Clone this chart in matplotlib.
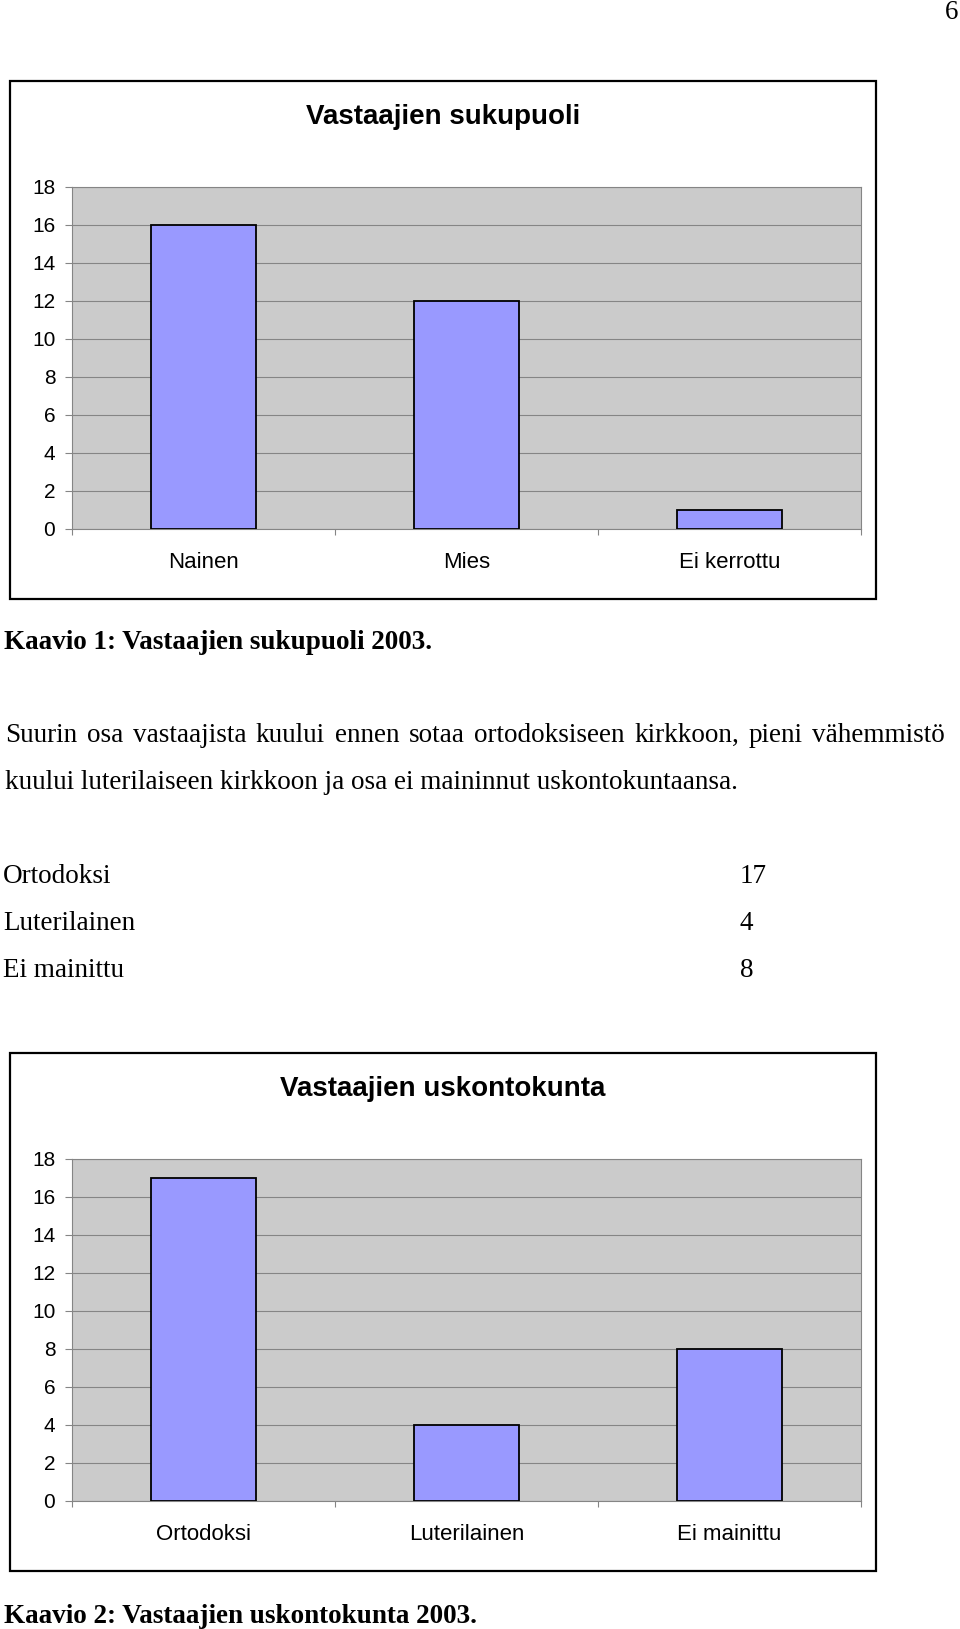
import matplotlib
matplotlib.use('Agg')
import matplotlib.pyplot as plt
from matplotlib.patches import Rectangle

W, H = 960, 1629
DPI = 100

# ---- data ----
gender_cats = ['Nainen', 'Mies', 'Ei kerrottu']
gender_vals = [16, 12, 1]
religion_cats = ['Ortodoksi', 'Luterilainen', 'Ei mainittu']
religion_vals = [17, 4, 8]
yticks = [0, 2, 4, 6, 8, 10, 12, 14, 16, 18]

chart1_title = 'Vastaajien sukupuoli'
chart2_title = 'Vastaajien uskontokunta'
caption1 = 'Kaavio 1: Vastaajien sukupuoli 2003.'
caption2 = 'Kaavio 2: Vastaajien uskontokunta 2003.'
para_line1 = 'Suurin osa vastaajista kuului ennen sotaa ortodoksiseen kirkkoon, pieni vähemmistö'
para_line2 = 'kuului luterilaiseen kirkkoon ja osa ei maininnut uskontokuntaansa.'
table_labels = religion_cats
table_values = [str(v) for v in religion_vals]
page_number = '6'

SANS = 'Liberation Sans'
SERIF = 'Liberation Serif'
BAR = '#9999FF'
PLOT_BG = '#CBCBCB'
GRID = '#858585'

fig = plt.figure(figsize=(W / DPI, H / DPI), dpi=DPI)
fig.patch.set_facecolor('white')


def fx(px):
    return px / W


def fy(py):
    return 1 - py / H


def draw_chart(frame, plot, title, title_y, cats, vals):
    x0, y0, x1, y1 = frame
    fig.add_artist(Rectangle((fx(x0), fy(y1)), (x1 - x0) / W, (y1 - y0) / H,
                             transform=fig.transFigure, facecolor='none',
                             edgecolor='black', linewidth=1.6, zorder=5))
    fig.text(fx((x0 + x1) / 2), fy(title_y), title, ha='center', va='center',
             fontsize=20, fontweight='bold', family=SANS)
    px0, py0, px1, py1 = plot
    ax = fig.add_axes([fx(px0), fy(py1), (px1 - px0) / W, (py1 - py0) / H])
    ax.set_facecolor(PLOT_BG)
    ax.bar(range(len(cats)), vals, width=0.4, color=BAR, edgecolor='black',
           linewidth=1.3, zorder=3)
    ax.set_xlim(-0.5, len(cats) - 0.5)
    ax.set_ylim(0, 18)
    ax.set_yticks(yticks)
    ax.set_yticklabels([str(t) for t in yticks], fontsize=15, family=SANS)
    ax.yaxis.grid(True, color=GRID, linewidth=0.8)
    ax.set_axisbelow(True)
    ax.set_xticks(range(len(cats)))
    ax.set_xticklabels(cats, fontsize=16, family=SANS)
    for lab in ax.get_xticklabels():
        lab.set_va('center')
    ax.set_xticks([i - 0.5 for i in range(len(cats) + 1)], minor=True)
    ax.tick_params(axis='x', which='major', length=0, pad=23.8)
    ax.tick_params(axis='x', which='minor', length=4.5, color=GRID, width=0.8)
    ax.tick_params(axis='y', length=5, color=GRID, width=0.8, pad=7)
    for s in ax.spines.values():
        s.set_color(GRID)
        s.set_linewidth(0.8)
    return ax


draw_chart((10, 81, 876, 599), (72, 187, 861, 529), chart1_title, 116.7,
           gender_cats, gender_vals)
draw_chart((10, 1053, 876, 1571), (72, 1159, 861, 1501), chart2_title, 1089,
           religion_cats, religion_vals)

BODY = 19.5
fig.text(fx(4), fy(649), caption1, ha='left', va='baseline', fontsize=BODY,
         fontweight='bold', family=SERIF)
fig.text(fx(4), fy(1623), caption2, ha='left', va='baseline', fontsize=BODY,
         fontweight='bold', family=SERIF)
fig.text(fx(945), fy(19), page_number, ha='left', va='baseline', fontsize=BODY,
         family=SERIF)

renderer = fig.canvas.get_renderer()


def justified_line(text, x_left, x_right, y_base, **kw):
    words = text.split(' ')
    groups = []
    for w in words:
        core = w.rstrip(',.')
        punct = w[len(core):]
        ca = fig.text(0, fy(y_base), core, ha='left', va='baseline', **kw)
        pa = fig.text(0, fy(y_base), punct, ha='left', va='baseline', **kw) if punct else None
        cw = ca.get_window_extent(renderer).width
        pw = pa.get_window_extent(renderer).width if pa else 0
        groups.append((ca, cw, pa, pw))
    total = sum(g[1] + g[3] for g in groups)
    gap = ((x_right - x_left) - total) / (len(groups) - 1)
    x = x_left
    for ca, cw, pa, pw in groups:
        ca.set_x(fx(x))
        if pa is not None:
            pa.set_x(fx(x + cw))
        x += cw + pw + gap


justified_line(para_line1, 5, 945, 742, fontsize=BODY, family=SERIF)
fig.text(fx(5), fy(789), para_line2, ha='left', va='baseline', fontsize=BODY,
         family=SERIF)

for i, (lab, val) in enumerate(zip(table_labels, table_values)):
    yb = 883 + i * 46.8
    fig.text(fx(3), fy(yb), lab, ha='left', va='baseline', fontsize=BODY, family=SERIF)
    fig.text(fx(740), fy(yb), val, ha='left', va='baseline', fontsize=BODY, family=SERIF)

fig.savefig('out.png', dpi=DPI, facecolor='white')
